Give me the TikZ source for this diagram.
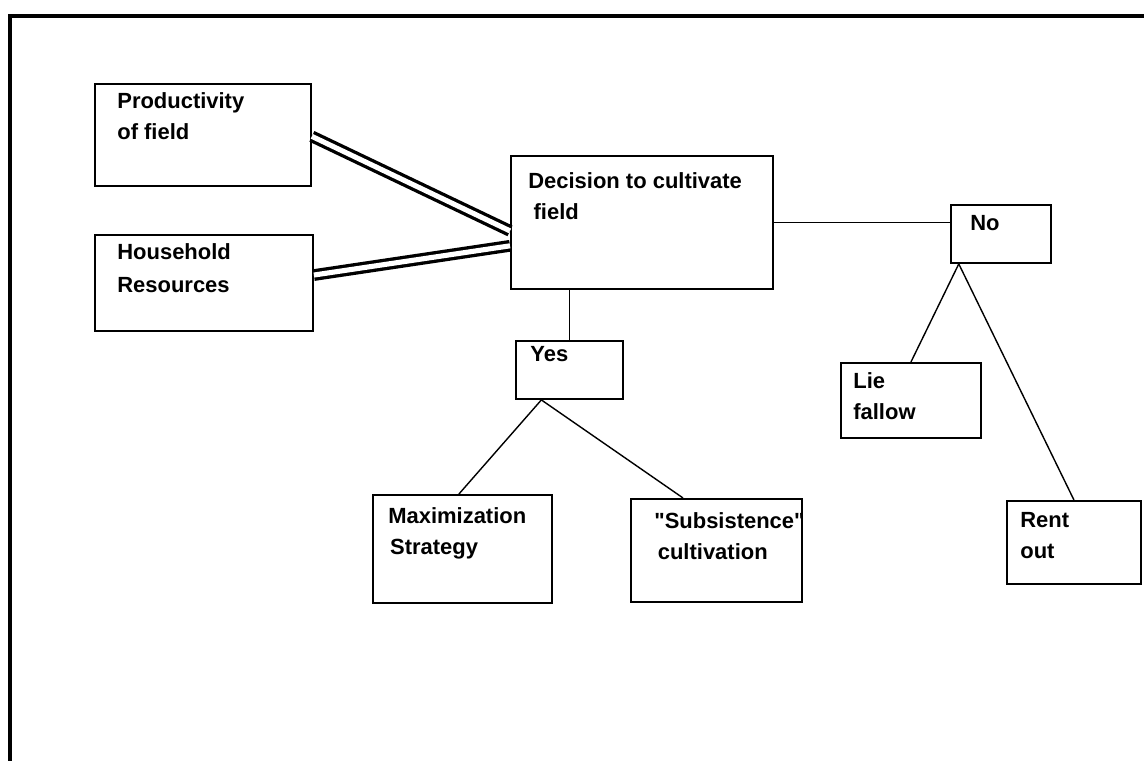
\documentclass[tikz,border=0pt]{standalone}
\usepackage{fontspec}
\setmainfont{Liberation Sans}
\usepackage{tikz}

\tikzset{
    casella/.style={draw, line width=1.1pt, rectangle, anchor=north west, inner sep=0pt},
    testo/.style={anchor=north west, inner sep=0pt, align=left,
        font=\bfseries\fontsize{12.5}{17.5}\selectfont},
    doppia/.style={double, line width=1.9pt, double distance=2.9pt},
    ramo/.style={line width=0.8pt}
}

\begin{document}
\begin{tikzpicture}[x=0.02cm, y=-0.02cm]
        \useasboundingbox (0,0) rectangle (1144,761);

        % Cornice
        \draw[line width=1.8pt] (10,761) -- (10,16) -- (1144,16);

        % Caselle
        \node[casella, minimum width=4.32cm, minimum height=2.04cm] (prod) at (94,83) {};
        \node[casella, minimum width=4.36cm, minimum height=1.92cm] (hh) at (94,234) {};
        \node[casella, minimum width=5.24cm, minimum height=2.66cm] (dec) at (510,155) {};
        \node[casella, minimum width=2.00cm, minimum height=1.16cm] (no) at (950,204) {};
        \node[casella, minimum width=2.14cm, minimum height=1.16cm] (yes) at (515,340) {};
        \node[casella, minimum width=2.80cm, minimum height=1.50cm] (lie) at (840,362) {};
        \node[casella, minimum width=3.58cm, minimum height=2.16cm] (max) at (372,494) {};
        \node[casella, minimum width=3.42cm, minimum height=2.06cm] (subs) at (630,498) {};
        \node[casella, minimum width=2.68cm, minimum height=1.66cm] (rent) at (1006,500) {};

        % Testi
        \node[testo] (tprod) at (117,92) {Productivity\\of field};
        \node[testo] (thh) at (117,243) {Household\\[1.5pt]Resources};
        \node[testo] (tdec) at (528,172) {Decision to cultivate\\\hspace{3pt}field};
        \node[testo] (tno) at (970,215) {No};
        \node[testo] (tyes) at (530,346) {Yes};
        \node[testo] (tlie) at (853,372) {Lie\\fallow};
        \node[testo] (tmax) at (388,507) {Maximization\\\hspace{1pt}Strategy};
        \node[testo] (tsubs) at (654,512) {\textquotedbl Subsistence\textquotedbl\\\hspace{2pt}cultivation};
        \node[testo] (trent) at (1020,512) {Rent\\out};

        % Punti di partenza dei rami
        \coordinate (ybase) at ([xshift=15pt]yes.south west);
        \coordinate (nbase) at ([xshift=5pt]no.south west);

        \draw[doppia] ([yshift=-0.8pt]prod.east) -- ([yshift=-4.8pt]dec.west);
        \draw[doppia] ([yshift=4.5pt]hh.east) -- ([yshift=-13.3pt]dec.west);

        \draw[ramo] (dec.east) -- (dec.east -| no.west);
        \draw[ramo] (yes.north |- dec.south) -- (yes.north);
        \draw[ramo] (ybase) -- ([xshift=-2pt]max.north);
        \draw[ramo] (ybase) -- ([xshift=-19pt]subs.north);
        \draw[ramo] (nbase) -- (lie.north);
        \draw[ramo] (nbase) -- (rent.north);
    \end{tikzpicture}
\end{document}
